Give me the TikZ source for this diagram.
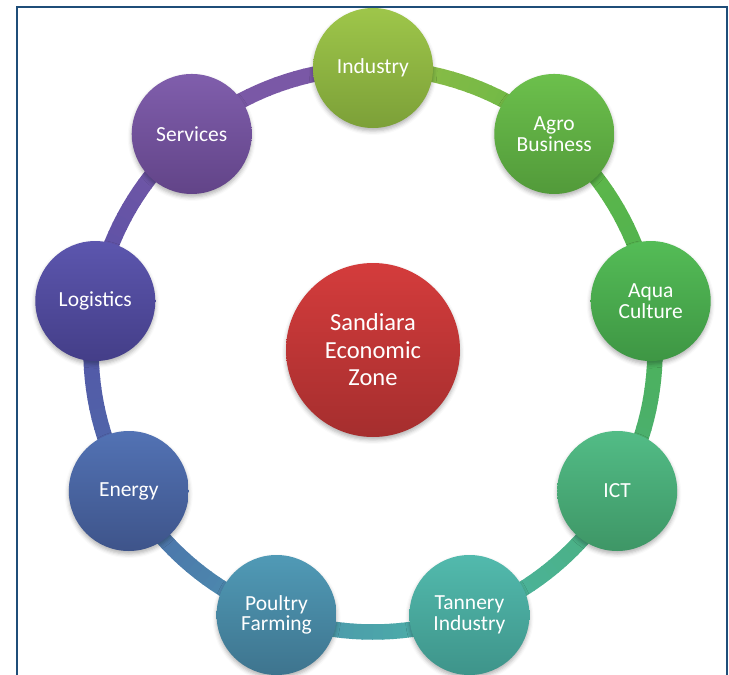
\documentclass[tikz,border=0pt]{standalone}
\usepackage{fontspec}
\setmainfont{Carlito}
\usetikzlibrary{shadows.blur}
\definecolor{frameblue}{HTML}{1F4E79}
\definecolor{cInd}{HTML}{94BC45}
\definecolor{cAgro}{HTML}{62B847}
\definecolor{cAqua}{HTML}{4DB152}
\definecolor{cICT}{HTML}{4AB07A}
\definecolor{cTan}{HTML}{4CB4A6}
\definecolor{cPou}{HTML}{4C91AE}
\definecolor{cEne}{HTML}{4D6BAA}
\definecolor{cLog}{HTML}{5651A6}
\definecolor{cSer}{HTML}{7A58A6}
\tikzset{
  bub/.style={circle, minimum size=120pt, inner sep=0pt, text=white,
    align=center, font=\fontsize{21.5}{20.5}\selectfont,
    blur shadow={shadow xshift=0pt, shadow yshift=-3pt, shadow opacity=30, shadow blur radius=4pt}},
  hub/.style={circle, minimum size=174pt, inner sep=0pt, text=white,
    align=center, font=\fontsize{24.5}{27.5}\selectfont,
    top color={rgb,255:red,212;green,60;blue,60}, bottom color={rgb,255:red,165;green,46;blue,46},
    blur shadow={shadow xshift=0pt, shadow yshift=-3pt, shadow opacity=30, shadow blur radius=4pt}},
  framebox/.style={draw=frameblue, line width=2pt}
}
\begin{document}
\begin{tikzpicture}[x=1pt,y=1pt]
\useasboundingbox (0,0) rectangle (729,-675);
\draw[framebox] (17,-7) rectangle (727,-690);
\coordinate (c) at (373,-350);
% ring with gradient segments
\foreach \a/\ca/\cb in {90/cInd/cAgro, 50/cAgro/cAqua, 10/cAqua/cICT, -30/cICT/cTan, -70/cTan/cPou, -110/cPou/cEne, -150/cEne/cLog, -190/cLog/cSer, -230/cSer/cSer}{
  \foreach \k in {0,...,19}{
    \pgfmathtruncatemacro\p{100-5*\k}
    \pgfmathsetmacro\sa{\a-2*\k}
    \pgfmathsetmacro\ea{\a-2*\k-2.2}
    \colorlet{segc}{\ca!\p!\cb}
    \draw[line width=15.5pt, segc] ([shift={(\sa:282)}]c) arc[start angle=\sa, end angle=\ea, radius=282];
  }
}
\node[hub] (hub) at (c) {Sandiara\\Economic\\Zone};
\node[bub, top color={rgb,255:red,158;green,198;blue,74}, bottom color={rgb,255:red,124;green,160;blue,56}] (ind) at ([shift={(90:282)}]c) {Industry};
\node[bub, top color={rgb,255:red,108;green,192;blue,76}, bottom color={rgb,255:red,82;green,154;blue,58}] (agro) at ([shift={(50:282)}]c) {Agro\\Business};
\node[bub, top color={rgb,255:red,84;green,188;blue,86}, bottom color={rgb,255:red,62;green,150;blue,68}] (aqua) at ([shift={(10:282)}]c) {Aqua\\Culture};
\node[bub, top color={rgb,255:red,82;green,188;blue,134}, bottom color={rgb,255:red,62;green,150;blue,102}] (ict) at ([shift={(-30:282)}]c) {ICT};
\node[bub, top color={rgb,255:red,82;green,186;blue,173}, bottom color={rgb,255:red,62;green,148;blue,138}] (tan) at ([shift={(-70:282)}]c) {Tannery\\Industry};
\node[bub, top color={rgb,255:red,80;green,154;blue,182}, bottom color={rgb,255:red,62;green,116;blue,142}] (pou) at ([shift={(-110:282)}]c) {Poultry\\Farming};
\node[bub, top color={rgb,255:red,82;green,114;blue,180}, bottom color={rgb,255:red,62;green,84;blue,138}] (ene) at ([shift={(-150:282)}]c) {Energy};
\node[bub, top color={rgb,255:red,92;green,86;blue,174}, bottom color={rgb,255:red,68;green,62;blue,136}] (log) at ([shift={(170:282)}]c) {Logistics};
\node[bub, top color={rgb,255:red,128;green,94;blue,172}, bottom color={rgb,255:red,98;green,68;blue,136}] (ser) at ([shift={(130:282)}]c) {Services};
\end{tikzpicture}
\end{document}
